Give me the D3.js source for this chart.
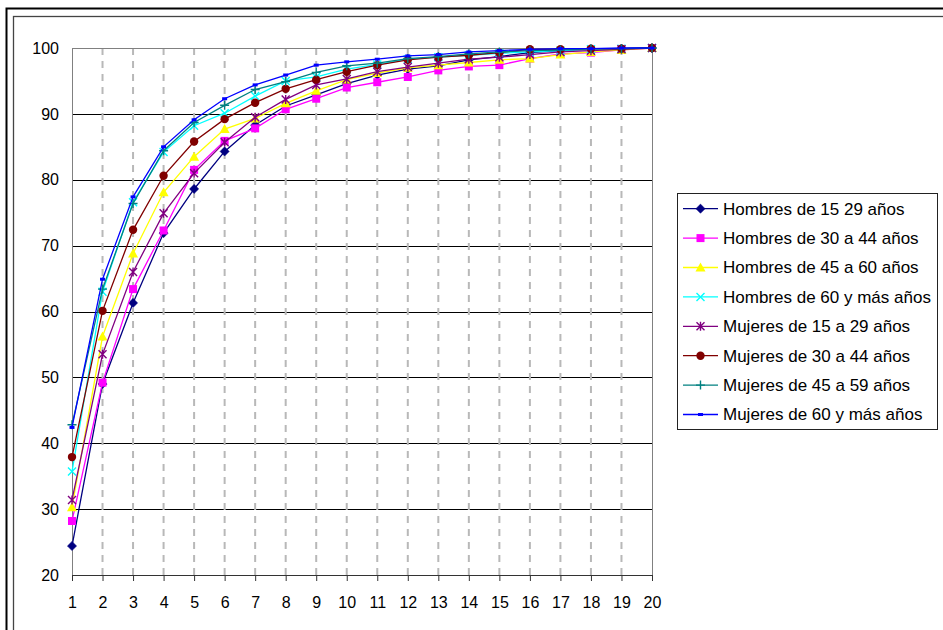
<!DOCTYPE html>
<html>
<head>
<meta charset="utf-8">
<script src="https://cdn.jsdelivr.net/npm/d3@7"></script>
<style>
  html, body { margin: 0; padding: 0; background: #fff; }
  svg { display: block; font-family: "Liberation Sans", Arial, sans-serif; }
</style>
</head>
<body>
<svg id="chart" width="943" height="630"></svg>
<script>
// ---- data ----
const categories = [1,2,3,4,5,6,7,8,9,10,11,12,13,14,15,16,17,18,19,20];
const yTicks = [20,30,40,50,60,70,80,90,100];
const seriesNames = [
  "Hombres de 15 29 años",
  "Hombres de 30 a 44 años",
  "Hombres de 45 a 60 años",
  "Hombres de 60 y más años",
  "Mujeres de 15 a 29 años",
  "Mujeres de 30 a 44 años",
  "Mujeres de 45 a 59 años",
  "Mujeres de 60 y más años"
];
const hombres15_29 = [24.4, 49.0, 61.3, 71.9, 78.6, 84.3, 88.3, 91.2, 92.9, 94.6, 95.9, 96.8, 97.3, 98.2, 98.7, 99.3, 99.6, 99.8, 99.9, 100];
const hombres30_44 = [28.2, 49.2, 63.4, 72.3, 81.5, 85.9, 87.8, 90.7, 92.3, 94.0, 94.8, 95.6, 96.6, 97.2, 97.4, 98.4, 99.1, 99.3, 99.7, 100];
const hombres45_60 = [30.3, 56.2, 68.8, 78.1, 83.5, 87.7, 89.3, 91.6, 93.5, 95.2, 96.2, 97.0, 97.4, 97.8, 98.2, 98.4, 99.0, 99.4, 99.7, 100];
const hombres60mas = [35.7, 63.0, 76.6, 84.2, 88.2, 90.1, 92.7, 95.0, 95.6, 96.8, 97.5, 98.3, 98.6, 98.9, 99.2, 99.4, 99.6, 99.8, 99.9, 100];
const mujeres15_29 = [31.4, 53.5, 66.0, 74.9, 81.0, 85.7, 89.5, 92.2, 94.4, 95.3, 96.4, 97.1, 97.7, 98.3, 98.6, 99.0, 99.4, 99.6, 99.8, 100];
const mujeres30_44 = [37.9, 60.1, 72.4, 80.6, 85.8, 89.2, 91.7, 93.8, 95.2, 96.4, 97.4, 98.2, 98.6, 98.9, 99.3, 99.8, 99.8, 99.9, 99.9, 100];
const mujeres45_59 = [42.8, 63.4, 76.4, 84.4, 88.7, 91.3, 93.7, 94.9, 96.3, 97.3, 97.7, 98.4, 98.7, 99.1, 99.4, 99.6, 99.7, 99.9, 99.9, 100];
const mujeres60mas = [42.4, 64.9, 77.4, 85.0, 89.1, 92.3, 94.4, 95.9, 97.4, 97.9, 98.3, 98.8, 99.0, 99.4, 99.6, 99.8, 99.9, 99.9, 100, 100];
const seriesValues = [hombres15_29, hombres30_44, hombres45_60, hombres60mas,
                      mujeres15_29, mujeres30_44, mujeres45_59, mujeres60mas];
const seriesColors = ["#000080","#FF00FF","#FFFF00","#00FFFF","#800080","#800000","#008080","#0000FF"];
const seriesMarkers = ["diamond","square","triangle","x","asterisk","circle","plus","dash"];

// ---- layout ----
const svg = d3.select("#chart");
const W = 943, H = 630;
const plot = {left: 72, right: 652, top: 48, bottom: 575};

// outer frames
svg.append("rect").attr("x", 6.5).attr("y", 8.5).attr("width", W + 20).attr("height", H + 20)
  .attr("fill", "#fff").attr("stroke", "#000").attr("stroke-width", 2);
svg.append("rect").attr("x", 13.5).attr("y", 16.5).attr("width", W + 20).attr("height", H + 20)
  .attr("fill", "#fff").attr("stroke", "#444").attr("stroke-width", 1.3);

const x = d3.scaleLinear().domain([1, 20]).range([plot.left, plot.right]);
const y = d3.scaleLinear().domain([20, 100]).range([plot.bottom, plot.top]);

// horizontal gridlines
svg.append("g").selectAll("line").data(yTicks.filter(v => v > 20 && v < 100)).join("line")
  .attr("x1", plot.left).attr("x2", plot.right)
  .attr("y1", d => Math.round(y(d)) + 0.5).attr("y2", d => Math.round(y(d)) + 0.5)
  .attr("stroke", "#000").attr("stroke-width", 1);

// vertical dashed gridlines
svg.append("g").selectAll("line").data(categories.filter(c => c > 1 && c < 20)).join("line")
  .attr("x1", d => x(d)).attr("x2", d => x(d))
  .attr("y1", plot.top).attr("y2", plot.bottom)
  .attr("stroke", "#b8b8b8").attr("stroke-width", 2).attr("stroke-dasharray", "7,6");

// plot border (top, right gray), left axis gray
svg.append("line").attr("x1", plot.left).attr("x2", plot.right).attr("y1", plot.top + 0.5).attr("y2", plot.top + 0.5)
  .attr("stroke", "#808080");
svg.append("line").attr("x1", plot.right + 0.5).attr("x2", plot.right + 0.5).attr("y1", plot.top).attr("y2", plot.bottom)
  .attr("stroke", "#808080");
svg.append("line").attr("x1", plot.left + 0.5).attr("x2", plot.left + 0.5).attr("y1", plot.top).attr("y2", plot.bottom)
  .attr("stroke", "#808080");

// axes
const yAxis = svg.append("g").attr("transform", `translate(${plot.left},0)`)
  .call(d3.axisLeft(y).tickValues(yTicks).tickSize(0).tickPadding(13).tickFormat(d3.format("d")));
yAxis.select(".domain").remove();
yAxis.selectAll("text").attr("font-size", 16).attr("fill", "#000")
  .attr("font-family", "'Liberation Sans', Arial, sans-serif");

const xAxis = svg.append("g").attr("transform", `translate(0,${plot.bottom})`)
  .call(d3.axisBottom(x).tickValues(categories).tickSize(6).tickPadding(16).tickFormat(d3.format("d")));
xAxis.select(".domain").attr("stroke", "#333");
xAxis.selectAll(".tick line").attr("stroke", "#333");
xAxis.selectAll("text").attr("font-size", 16).attr("fill", "#000")
  .attr("font-family", "'Liberation Sans', Arial, sans-serif");

// marker drawing
function drawMarker(g, type, color, cx, cy) {
  const s = 4;
  if (type === "diamond") {
    g.append("path").attr("d", `M${cx},${cy - 4.6}L${cx + 4.6},${cy}L${cx},${cy + 4.6}L${cx - 4.6},${cy}Z`)
      .attr("fill", color).attr("stroke", color).attr("stroke-width", 0.5);
  } else if (type === "square") {
    g.append("rect").attr("x", cx - s).attr("y", cy - s).attr("width", 2 * s).attr("height", 2 * s).attr("fill", color);
  } else if (type === "triangle") {
    g.append("path").attr("d", `M${cx},${cy - 5}L${cx + 5},${cy + 4}L${cx - 5},${cy + 4}Z`).attr("fill", color);
  } else if (type === "x") {
    g.append("path").attr("d", `M${cx - s},${cy - s}L${cx + s},${cy + s}M${cx - s},${cy + s}L${cx + s},${cy - s}`)
      .attr("stroke", color).attr("stroke-width", 1.4);
  } else if (type === "asterisk") {
    g.append("path").attr("d", `M${cx - s},${cy - s}L${cx + s},${cy + s}M${cx - s},${cy + s}L${cx + s},${cy - s}M${cx},${cy - s - 0.5}L${cx},${cy + s + 0.5}`)
      .attr("stroke", color).attr("stroke-width", 1.4);
  } else if (type === "circle") {
    g.append("circle").attr("cx", cx).attr("cy", cy).attr("r", 4.2).attr("fill", color);
  } else if (type === "plus") {
    g.append("path").attr("d", `M${cx - 4.5},${cy}L${cx + 4.5},${cy}M${cx},${cy - 4.5}L${cx},${cy + 4.5}`)
      .attr("stroke", color).attr("stroke-width", 1.4);
  } else if (type === "dash") {
    g.append("rect").attr("x", cx - 2.5).attr("y", cy - 1.5).attr("width", 5).attr("height", 3).attr("fill", color);
  }
}

// lines & markers
const line = d3.line().x((d, i) => x(categories[i])).y(d => y(d));
seriesValues.forEach((vals, si) => {
  const g = svg.append("g");
  g.append("path").attr("d", line(vals)).attr("fill", "none")
    .attr("stroke", seriesColors[si]).attr("stroke-width", 1.3);
  vals.forEach((v, i) => drawMarker(g, seriesMarkers[si], seriesColors[si], x(categories[i]), y(v)));
});

// legend
const legend = svg.append("g");
legend.append("rect").attr("x", 677.5).attr("y", 193.5).attr("width", 260).attr("height", 236)
  .attr("fill", "#fff").attr("stroke", "#222").attr("stroke-width", 1);
seriesNames.forEach((name, i) => {
  const cy = 208.7 + i * 29.4;
  legend.append("line").attr("x1", 683).attr("x2", 718).attr("y1", cy).attr("y2", cy)
    .attr("stroke", seriesColors[i]).attr("stroke-width", 1.3);
  drawMarker(legend, seriesMarkers[i], seriesColors[i], 700.5, cy);
  legend.append("text").attr("x", 723).attr("y", cy).attr("dy", "0.35em")
    .attr("font-size", 17).attr("fill", "#000").text(name);
});
</script>
</body>
</html>
